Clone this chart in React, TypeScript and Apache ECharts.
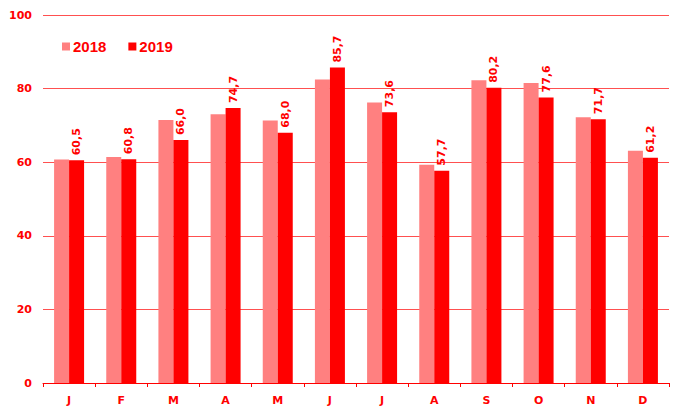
import React, { useEffect, useRef } from "react";
import * as echarts from "echarts";

const months = ["J", "F", "M", "A", "M", "J", "J", "A", "S", "O", "N", "D"];
const values2018 = [60.7, 61.4, 71.5, 73.0, 71.3, 82.5, 76.2, 59.3, 82.3, 81.5, 72.2, 63.1];
const values2019 = [60.5, 60.8, 66.0, 74.7, 68.0, 85.7, 73.6, 57.7, 80.2, 77.6, 71.7, 61.2];
const seriesNames = ["2018", "2019"];

export default function App() {
  const ref = useRef<HTMLDivElement>(null);
  useEffect(() => {
    if (!ref.current) return;
    const chart = echarts.init(ref.current, undefined, { renderer: "svg" });
    const fmt = (v: number) => v.toFixed(1).replace(".", ",");
    chart.setOption({
      animation: false,
      backgroundColor: "#ffffff",
      legend: {
        left: 57,
        top: 34,
        icon: "rect",
        itemWidth: 8,
        itemHeight: 8,
        itemGap: 22,
        textStyle: {
          color: "#ff0000",
          fontFamily: "Liberation Sans",
          fontWeight: "bold",
          fontSize: 15,
          padding: [0, 0, 0, -2],
        },
        data: seriesNames,
      },
      grid: { left: 43, right: 6, top: 15, bottom: 27, containLabel: false },
      xAxis: {
        type: "category",
        data: months,
        axisLine: { lineStyle: { color: "#ff0000", width: 1 } },
        axisTick: { show: true, length: 4, lineStyle: { color: "#ff0000" } },
        axisLabel: {
          color: "#ff0000",
          fontFamily: "DejaVu Sans",
          fontWeight: "bold",
          fontSize: 11,
          margin: 12,
        },
      },
      yAxis: {
        type: "value",
        min: 0,
        max: 100,
        interval: 20,
        axisLine: { show: false },
        axisTick: { show: false },
        splitLine: { lineStyle: { color: "#ff5050", width: 1 } },
        axisLabel: {
          color: "#ff0000",
          fontFamily: "DejaVu Sans",
          fontWeight: "bold",
          fontSize: 11,
          margin: 11,
        },
      },
      series: [
        {
          name: seriesNames[0],
          type: "bar",
          data: values2018,
          barWidth: 15,
          barGap: "0%",
          itemStyle: { color: "#ff8080" },
        },
        {
          name: seriesNames[1],
          type: "bar",
          data: values2019,
          barWidth: 15,
          barGap: "0%",
          itemStyle: { color: "#ff0000" },
          label: {
            show: true,
            position: "top",
            rotate: 90,
            align: "left",
            verticalAlign: "middle",
            distance: 5,
            color: "#ff0000",
            fontFamily: "DejaVu Sans",
            fontWeight: "bold",
            fontSize: 11,
            formatter: (p: any) => fmt(p.value),
          },
        },
      ],
    });
    return () => chart.dispose();
  }, []);
  return <div ref={ref} style={{ width: 675, height: 410, position: "absolute", left: 0, top: 0 }} />;
}
